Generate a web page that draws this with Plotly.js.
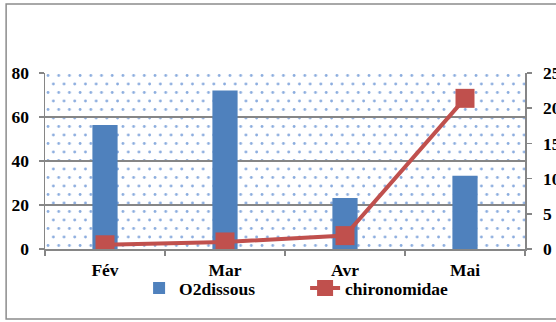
<!DOCTYPE html>
<html>
<head>
<meta charset="utf-8">
<script src="https://cdn.plot.ly/plotly-3.0.1.min.js"></script>
<style>html,body{margin:0;padding:0;background:#fff;}#chart{width:556px;height:322px;}</style>
</head>
<body>
<div id="chart"></div>
<script>
// Data
const months = ["Fév", "Mar", "Avr", "Mai"];
const o2dissous = [56.4, 72, 23.2, 33.3];
const chironomidae = [0.6, 1.0, 1.9, 21.4];
const leftTicks = [0, 20, 40, 60, 80];
const rightTicks = [0, 5, 10, 15, 20, 25];

// dotted background pattern (SVG tile)
const svg = '<svg xmlns="http://www.w3.org/2000/svg" width="480" height="176" viewBox="0 0 480 176" preserveAspectRatio="none">' +
  '<defs><pattern id="p" x="0" y="0" width="10.7" height="17" patternUnits="userSpaceOnUse">' +
  '<circle cx="3" cy="2.5" r="1.4" fill="#8bacde"/>' +
  '<circle cx="8.35" cy="11" r="1.4" fill="#8bacde"/>' +
  '</pattern></defs><rect width="480" height="176" fill="#ffffff"/><rect width="480" height="176" fill="url(#p)"/></svg>';
const bgSrc = 'data:image/svg+xml;charset=utf-8,' + encodeURIComponent(svg);

const font = {family: 'Times New Roman, Liberation Serif, serif', size: 17.5, color: '#000', weight: 'bold'};

const traces = [
  {
    type: 'bar', name: 'O2dissous', x: months, y: o2dissous,
    marker: {color: '#4f81bd'}, yaxis: 'y'
  },
  {
    type: 'scatter', mode: 'lines+markers', name: 'chironomidae', x: months, y: chironomidae,
    yaxis: 'y2',
    line: {color: '#c0504d', width: 4},
    marker: {symbol: 'square', size: 19, color: '#c0504d'}
  }
];

const layout = {
  width: 556, height: 322,
  margin: {l: 45, r: 31, t: 73, b: 73},
  paper_bgcolor: '#ffffff',
  plot_bgcolor: 'rgba(0,0,0,0)',
  font: font,
  bargap: 0.79,
  showlegend: true,
  legend: {
    orientation: 'h', x: 0.196, y: -0.12, xanchor: 'left', yanchor: 'top',
    font: font, bgcolor: 'rgba(0,0,0,0)', itemwidth: 30, traceorder: 'normal',
    entrywidth: 121, entrywidthmode: 'pixels'
  },
  xaxis: {
    type: 'category', range: [-0.5, 3.5], tickson: 'boundaries',
    ticks: 'outside', ticklen: 5, tickwidth: 1.5, tickcolor: '#868686',
    showline: true, linecolor: '#868686', linewidth: 1.5,
    showgrid: false, tickfont: font, ticklabelstandoff: 4
  },
  yaxis: {
    range: [0, 80], tickvals: leftTicks, ticktext: leftTicks.map(String),
    ticks: 'outside', ticklen: 5, tickwidth: 1.5, tickcolor: '#868686',
    showline: true, linecolor: '#868686', linewidth: 1.5,
    showgrid: true, gridcolor: '#868686', gridwidth: 1.5,
    zeroline: false, tickfont: font, ticklabelstandoff: 6
  },
  yaxis2: {
    range: [0, 25], tickvals: rightTicks, ticktext: rightTicks.map(String),
    overlaying: 'y', side: 'right',
    ticks: 'outside', ticklen: 5, tickwidth: 1.5, tickcolor: '#868686',
    showline: true, linecolor: '#868686', linewidth: 1.5,
    showgrid: false, zeroline: false, tickfont: font, ticklabelstandoff: 8
  },
  images: [{
    source: bgSrc, xref: 'paper', yref: 'paper', x: 0, y: 1, sizex: 1, sizey: 1,
    xanchor: 'left', yanchor: 'top', sizing: 'stretch', layer: 'below'
  }],
  shapes: [{
    type: 'rect', xref: 'paper', yref: 'paper',
    x0: -0.081, x1: 1.2, y0: -0.398, y1: 1.392,
    line: {color: '#8c8c8c', width: 1.5}, fillcolor: 'rgba(0,0,0,0)', layer: 'below'
  }]
};

Plotly.newPlot('chart', traces, layout, {staticPlot: true, displayModeBar: false});
</script>
</body>
</html>
